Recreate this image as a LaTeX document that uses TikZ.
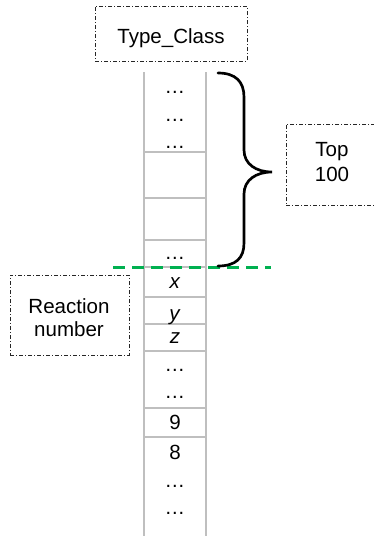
\documentclass[tikz,border=0pt]{standalone}
\usepackage{fontspec}
\setmainfont{Liberation Sans}
\definecolor{cellgray}{RGB}{191,191,191}
\definecolor{cutgreen}{RGB}{0,176,80}

\begin{document}
\begin{tikzpicture}[x=0.75pt, y=-0.75pt,
    font=\fontsize{15.4}{18}\selectfont,
    dashbox/.style={draw=black!85, line width=0.75pt, inner sep=0pt,
      dash pattern=on 3pt off 1.5pt on 0.75pt off 1.5pt},
    cellline/.style={draw=cellgray, line width=1.2pt},
    entry/.style={anchor=base, inner sep=0pt},
    cutline/.style={draw=cutgreen, line width=2.25pt, dash pattern=on 9pt off 5.25pt},
    bracket/.style={draw=black, line width=2pt, line cap=round}]

        \clip (0,0) rectangle (374,536);

        % 1) Label boxes
        \node[dashbox, minimum width=114pt, minimum height=41.25pt] (typebox) at (171,33.5) {};
        \node[entry] (typetext) at (171,43) {Type\_Class};

        \node[dashbox, minimum width=70.5pt, minimum height=60.75pt] (topbox) at (333,164.5) {};
        \node[entry] (toptext) at (332,156.7) {Top};
        \node[entry] (topnum) at (332,181.7) {100};

        \node[dashbox, minimum width=89.25pt, minimum height=60pt] (reacbox) at (69.5,315) {};
        \node[entry] (reactext) at (69,313) {Reaction};
        \node[entry] (reacnum) at (69,336) {number};

        % 2) The list column with its cell borders
        \draw[cellline] (144,72) -- (144,540);
        \draw[cellline] (206,72) -- (206,540);
        \foreach \y in {152,198,240,267,297,324,351,408,437}
            \draw[cellline] (144,\y) -- (206,\y);

        % 3) Entries of the column
        \node[entry] (dotsA) at (175,93.5) {…};
        \node[entry] (dotsB) at (175,121) {…};
        \node[entry] (dotsC) at (175,148) {…};
        \node[entry] (dotsD) at (175,259.5) {…};
        \node[entry] (valx) at (175,288) {\textit{x}};
        \node[entry] (valy) at (175,320) {\textit{y}};
        \node[entry] (valz) at (175,343) {\textit{z}};
        \node[entry] (dotsE) at (175,371) {…};
        \node[entry] (dotsF) at (175,398) {…};
        \node[entry] (val9) at (175,429.5) {9};
        \node[entry] (val8) at (175,459.5) {8};
        \node[entry] (dotsG) at (175,487) {…};
        \node[entry] (dotsH) at (175,514) {…};

        % 4) Cut-off line below the top entries
        \coordinate (cutL) at (113,267);
        \coordinate (cutR) at (271,267);
        \draw[cutline] (cutL) -- (cutR);

        % 5) Curly brace over the top entries
        \coordinate (braceTop) at (218,73);
        \coordinate (braceTip) at (272,172);
        \coordinate (braceBot) at (218,266);
        \draw[bracket] (braceTop)
            .. controls (236,73) and (244,82) .. (244,97)
            -- (244,150)
            .. controls (244,164) and (256,172) .. (braceTip)
            .. controls (256,172) and (244,180) .. (244,194)
            -- (244,243)
            .. controls (244,258) and (236,266) .. (braceBot);

    \end{tikzpicture}
\end{document}
